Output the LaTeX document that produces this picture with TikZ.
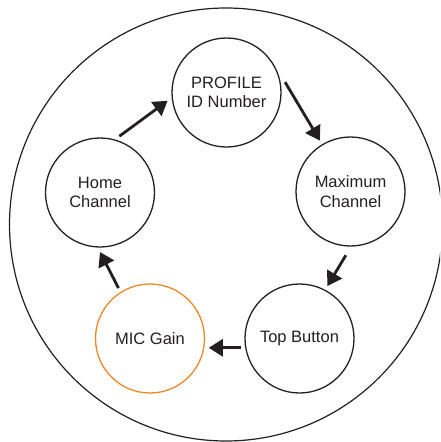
\documentclass[tikz,border=0pt]{standalone}
\usepackage{fontspec}
\setmainfont{Liberation Sans}
\usetikzlibrary{arrows.meta}
\definecolor{ink}{RGB}{35,31,32}
\definecolor{orng}{RGB}{240,134,38}
\begin{document}
\begin{tikzpicture}[x=1pt,y=-1pt,
  stage/.style={circle, draw=ink, line width=1.3pt, minimum size=109pt, inner sep=0pt,
    outer sep=5pt, align=center, text=ink, font=\fontsize{16.5}{19.5}\selectfont},
  flow/.style={draw=ink, line width=2.8pt, -{Triangle[length=14pt,width=17pt]}}]
\useasboundingbox (0,0) rectangle (440,442);
\begin{scope}
\clip (0,0) rectangle (440,442);
\node[circle, draw=ink, line width=1.2pt, minimum size=433pt, inner sep=0pt] (outer) at (226,224.5) {};
\end{scope}
\node[stage] (profile) at (226.5,92.5) {PROFILE\\ID Number};
\node[stage] (home) at (100,192.5) {Home\\Channel};
\node[stage] (max) at (350.5,191.5) {Maximum\\Channel};
\node[stage, draw=orng] (mic) at (150,338.5) {MIC Gain};
\node[stage] (top) at (299.5,338.5) {Top Button};
\draw[flow] (home.71) -- (profile.188);
\draw[flow] (profile.10) -- (max.121);
\draw[flow, shorten <=5pt] (max.268) -- (top.62);
\draw[flow] (top.189) -- (mic.-9);
\draw[flow] (mic.122) -- (home.270);
\end{tikzpicture}
\end{document}
